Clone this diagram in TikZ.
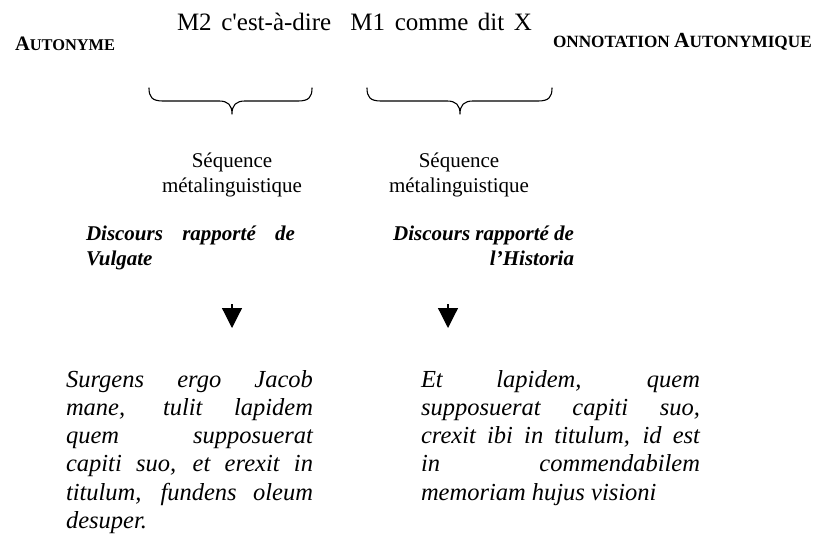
\documentclass[tikz,border=0pt]{standalone}
\usepackage{fontspec}
\setmainfont{Liberation Serif}
\newfontfamily\rawserif{Liberation Serif}
\usetikzlibrary{arrows.meta}
\tikzset{
  txt/.style={anchor=base west, inner sep=0pt, outer sep=0pt},
  ctxt/.style={anchor=base, inner sep=0pt, outer sep=0pt},
  bracestyle/.style={line width=1.1pt, line cap=round, line join=round},
  downarrow/.style={line width=1.2pt, -{Triangle[width=20pt,length=20pt]}}
}
\newcommand{\jline}[2]{\makebox[#1][s]{#2}}
\begin{document}
\begin{tikzpicture}[x=1pt,y=-1pt]
\useasboundingbox[fill=white] (0,0) rectangle (816,546);

% titles
\node[txt] (aut) at (15,50) {\bfseries{\fontsize{20.5}{24}\selectfont A}{\fontsize{16.4}{20}\selectfont UTONYME}};
\node[txt] (conn) at (553,47) {\bfseries{\fontsize{17.2}{20}\selectfont ONNOTATION }{\fontsize{21.5}{24}\selectfont A}{\fontsize{17.2}{20}\selectfont UTONYMIQUE}};

% main line
\node[txt] (main) at (177,30) {\rawserif\fontsize{25}{30}\selectfont\makebox[355pt][s]{M2 c'est-à-dire\ \ M1 comme dit X}};

% braces
\coordinate (b1l) at (149,88);
\coordinate (b1r) at (312,88);
\coordinate (b1c) at (232,114);
\coordinate (b2l) at (367,88);
\coordinate (b2r) at (552,88);
\coordinate (b2c) at (460,114);
\draw[bracestyle] (b1l) .. controls (149,97) and (152,101) .. (163,101) -- (219,101)
  .. controls (228,101) and (232,105) .. (b1c)
  .. controls (232,105) and (236,101) .. (245,101) -- (298,101)
  .. controls (309,101) and (312,97) .. (b1r);
\draw[bracestyle] (b2l) .. controls (367,97) and (370,101) .. (381,101) -- (447,101)
  .. controls (456,101) and (460,105) .. (b2c)
  .. controls (460,105) and (464,101) .. (473,101) -- (538,101)
  .. controls (549,101) and (552,97) .. (b2r);

% Sequence labels
\node[ctxt] (seq1) at (232,167) {\fontsize{21}{25}\selectfont\begin{tabular}[t]{@{}c@{}}Séquence\\métalinguistique\end{tabular}};
\node[ctxt] (seq2) at (459,167) {\fontsize{21}{25}\selectfont\begin{tabular}[t]{@{}c@{}}Séquence\\métalinguistique\end{tabular}};

% Discours rapporte
\node[txt] (dr1) at (86,240) {\fontsize{21}{25}\selectfont\bfseries\itshape\parbox[t]{209pt}{\jline{209pt}{Discours rapporté de}\\Vulgate}};
\node[txt] (dr2) at (390,240) {\fontsize{21}{25}\selectfont\bfseries\itshape\parbox[t]{184pt}{\raggedleft Discours rapporté de\\l’Historia}};

% arrows
\coordinate (a1s) at (232,304);
\coordinate (a1e) at (232,328);
\coordinate (a2s) at (448,304);
\coordinate (a2e) at (448,328);
\draw[downarrow] (a1s) -- (a1e);
\draw[downarrow] (a2s) -- (a2e);

% Latin quotations
\node[txt] (q1) at (66,387) {\fontsize{24.5}{28.3}\selectfont\itshape\parbox[t]{247pt}{%
\jline{247pt}{Surgens ergo Jacob}\\
\jline{247pt}{mane, tulit lapidem}\\
\jline{247pt}{quem supposuerat}\\
\jline{247pt}{capiti suo, et erexit in}\\
\jline{247pt}{titulum, fundens oleum}\\
desuper.}};
\node[txt] (q2) at (421,387) {\fontsize{24.5}{28.3}\selectfont\itshape\parbox[t]{279pt}{%
\jline{279pt}{Et lapidem, quem}\\
\jline{279pt}{supposuerat capiti suo,}\\
\jline{279pt}{crexit ibi in titulum, id est}\\
\jline{279pt}{in commendabilem}\\
memoriam hujus visioni}};
\end{tikzpicture}
\end{document}
